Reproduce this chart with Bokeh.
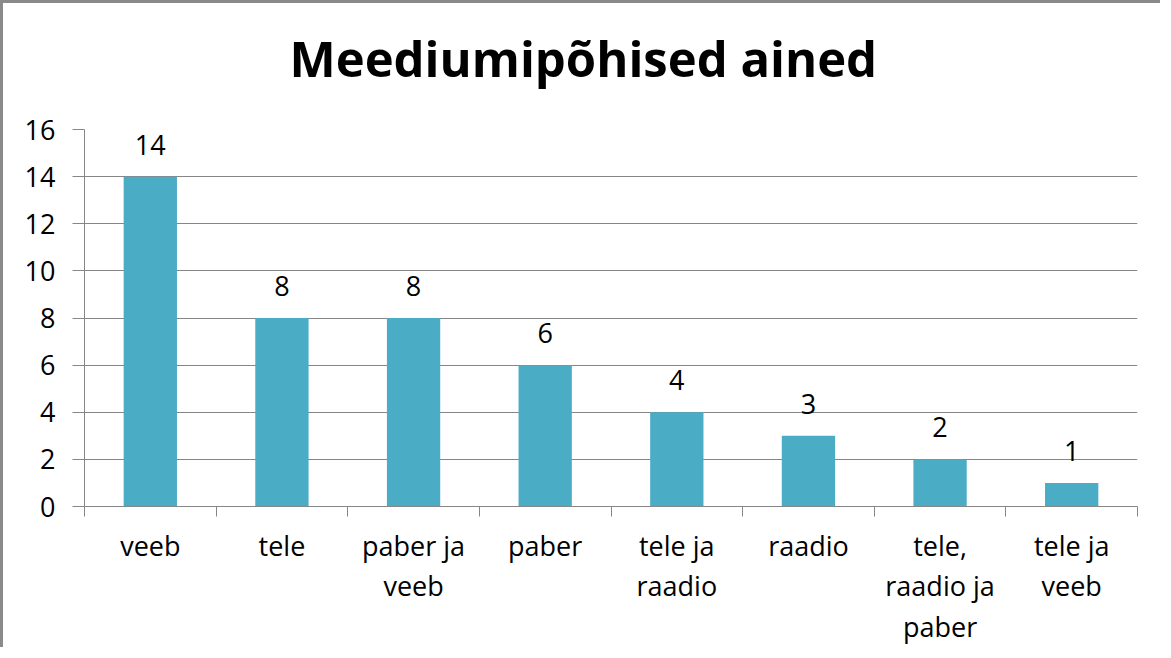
from bokeh.plotting import figure
from bokeh.models import Range1d, FixedTicker, ColumnDataSource, Title
from bokeh.core.properties import value
from bokeh.embed import file_html
from bokeh.resources import INLINE

categories = ["veeb", "tele", "paber ja\nveeb", "paber", "tele ja\nraadio", "raadio", "tele,\nraadio ja\npaber", "tele ja\nveeb"]
values = [14, 8, 8, 6, 4, 3, 2, 1]
y_ticks = [0, 2, 4, 6, 8, 10, 12, 14, 16]
title_text = "Meediumipõhised ained"

FONT = "Open Sans"
GRAY = "#868686"
BAR = "#4BACC6"

xs = [i + 0.5 for i in range(len(categories))]
src = ColumnDataSource(dict(x=xs, top=values, label=[str(v) for v in values]))

p = figure(width=1160, height=647, output_backend="svg", toolbar_location=None,
           x_range=Range1d(0, len(categories)), y_range=Range1d(0, 16),
           min_border_left=81, min_border_right=26, min_border_top=126, min_border_bottom=144)
p.styles = {"border-left": "3px solid #8a8a8a", "border-top": "3px solid #8a8a8a"}

p.title.text = title_text
p.title.text_font = FONT
p.title.text_font_size = "49px"
p.title.text_font_style = "bold"
p.title.align = "left"
p.title.text_color = "#000000"
p.title.standoff = 0
p.title.offset = 205

# empty spacer between the title and the plot area
p.add_layout(Title(text=" ", text_font_size="1px", standoff=36), "above")

p.outline_line_color = None
p.background_fill_color = "white"
p.border_fill_color = "white"

p.vbar(x="x", top="top", width=0.405, color=BAR, line_color=None, source=src)
p.text(x="x", y="top", text="label", source=src, text_font=value(FONT), text_font_size="27px",
       text_align="center", text_baseline="alphabetic", y_offset=-32, text_color="#000000")

# y axis
ya = p.yaxis[0]
ya.ticker = FixedTicker(ticks=y_ticks)
ya.axis_line_color = GRAY
ya.major_tick_line_color = GRAY
ya.major_tick_out = 12
ya.major_tick_in = 0
ya.minor_tick_line_color = None
ya.major_label_standoff = 17
ya.major_label_text_font = FONT
ya.major_label_text_font_size = "27px"
ya.major_label_text_color = "#000000"

# x axis
xa = p.xaxis[0]
xa.ticker = FixedTicker(ticks=xs, minor_ticks=list(range(len(categories) + 1)))
xa.major_label_overrides = {x: c for x, c in zip(xs, categories)}
xa.axis_line_color = GRAY
xa.major_tick_line_color = None
xa.major_tick_out = 0
xa.major_tick_in = 0
xa.minor_tick_line_color = GRAY
xa.minor_tick_out = 10
xa.minor_tick_in = 0
xa.major_label_standoff = 10
xa.major_label_text_font = FONT
xa.major_label_text_font_size = "27px"
xa.major_label_text_color = "#000000"
xa.major_label_text_line_height = 1.1

p.xgrid.grid_line_color = None
p.ygrid.ticker = FixedTicker(ticks=y_ticks)
p.ygrid.grid_line_color = GRAY
p.ygrid.grid_line_width = 1

open("out.html", "w").write(file_html(p, INLINE))
